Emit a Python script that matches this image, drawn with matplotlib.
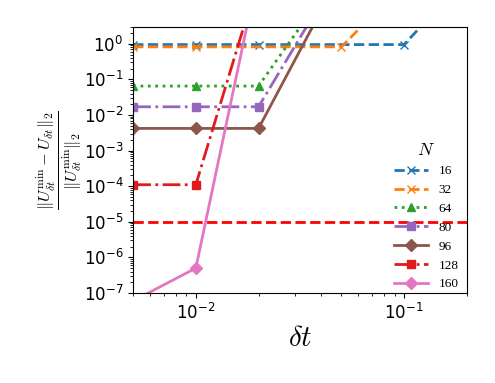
import numpy as np
import matplotlib
matplotlib.use("Agg")
import matplotlib.pyplot as plt
from matplotlib.ticker import LogLocator, NullFormatter

plt.rcParams["mathtext.fontset"] = "cm"

# time steps and relative errors for each grid size N
dt_16 = [0.005, 0.01, 0.02, 0.1, 0.2]
err_16 = [0.95, 0.95, 0.95, 0.95, 75.0]
dt_32 = [0.005, 0.01, 0.05, 0.1]
err_32 = [0.82, 0.82, 0.82, 50.0]
dt_64 = [0.005, 0.01, 0.02, 0.05]
err_64 = [0.065, 0.065, 0.065, 130.0]
dt_80 = [0.005, 0.01, 0.02, 0.05]
err_80 = [0.017, 0.017, 0.017, 130.0]
dt_96 = [0.005, 0.01, 0.02, 0.05]
err_96 = [0.0042, 0.0042, 0.0042, 100.0]
dt_128 = [0.005, 0.01, 0.02]
err_128 = [1.1e-4, 1.1e-4, 70.0]
dt_160 = [0.005, 0.01, 0.02]
err_160 = [6e-8, 5e-7, 110.0]

threshold = 1e-5

series = [
    ("16", dt_16, err_16, "tab:blue", "--", "x"),
    ("32", dt_32, err_32, "tab:orange", "--", "x"),
    ("64", dt_64, err_64, "tab:green", ":", "^"),
    ("80", dt_80, err_80, "tab:purple", "-.", "s"),
    ("96", dt_96, err_96, "tab:brown", "-", "D"),
    ("128", dt_128, err_128, "#e31a1c", "-.", "s"),
    ("160", dt_160, err_160, "tab:pink", "-", "D"),
]


def main():
    fig = plt.figure(figsize=(4.95, 3.83), dpi=100)
    ax = fig.add_axes([0.269, 0.235, 0.674, 0.695])

    for label, dt, err, color, ls, mk in series:
        ax.plot(dt, err, color=color, linestyle=ls, marker=mk,
                linewidth=2, markersize=6, label=label)

    ax.axhline(threshold, color="red", linestyle="--", linewidth=2)

    ax.set_xscale("log")
    ax.set_yscale("log")
    ax.set_xlim(0.005, 0.2)
    ax.set_ylim(1e-7, 3)
    ax.set_yticks([10.0 ** k for k in range(-7, 1)])
    ax.yaxis.set_minor_locator(LogLocator(base=10, subs=np.arange(2, 10), numticks=50))
    ax.yaxis.set_minor_formatter(NullFormatter())
    ax.tick_params(axis="both", which="major", labelsize=12, direction="out")

    ax.set_xlabel(r"$\delta t$", fontsize=21, labelpad=1)
    ax.set_ylabel(r"$\frac{\|U_{\delta t}^{\min} - U_{\delta t}\|_2}"
                  r"{\|U_{\delta t}^{\min}\|_2}$", fontsize=17, labelpad=0)

    ax.legend(title=r"$N$", loc="lower right", frameon=False,
              bbox_to_anchor=(1.0, -0.02),
              prop={"family": "Liberation Serif", "size": 9.5},
              handlelength=2.6, labelspacing=0.5, borderaxespad=0.2,
              title_fontsize=13)

    fig.savefig("out.png", dpi=100)


main()
